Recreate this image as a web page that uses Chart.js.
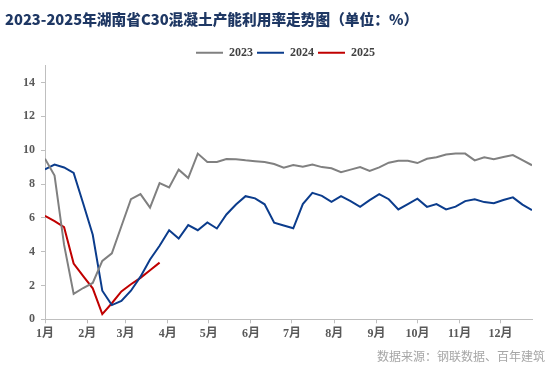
<!DOCTYPE html>
<html>
<head>
<meta charset="utf-8">
<script src="https://cdn.jsdelivr.net/npm/chart.js@4/dist/chart.umd.min.js"></script>
<style>
html,body{margin:0;padding:0;background:#fff;}
#c{display:block;}
</style>
</head>
<body>
<canvas id="c" width="554" height="382"></canvas>
<script>
// ---- data ----
const monthLabels = ['1月','2月','3月','4月','5月','6月','7月','8月','9月','10月','11月','12月'];
const monthStartDays = [0,31,59,90,120,151,181,212,243,273,304,334];
const yTicks = [0,2,4,6,8,10,12,14];
const seriesNames = ['2023','2024','2025'];
const v2023 = [9.5,8.5,4.4,1.5,1.85,2.15,3.45,3.9,5.5,7.1,7.4,6.6,8.05,7.8,8.85,8.35,9.8,9.3,9.3,9.48,9.47,9.4,9.35,9.3,9.18,8.97,9.12,9.02,9.15,9.0,8.93,8.7,8.85,9.0,8.77,8.98,9.26,9.37,9.38,9.24,9.49,9.58,9.75,9.8,9.8,9.4,9.58,9.47,9.6,9.71,9.41,9.11];
const v2024 = [8.86,9.15,8.98,8.66,6.85,5.0,1.69,0.84,1.08,1.69,2.52,3.54,4.35,5.27,4.78,5.57,5.27,5.73,5.37,6.2,6.79,7.28,7.15,6.8,5.71,5.55,5.38,6.81,7.48,7.3,6.95,7.28,6.99,6.65,7.05,7.4,7.1,6.5,6.81,7.13,6.65,6.81,6.5,6.66,6.99,7.1,6.93,6.86,7.05,7.21,6.78,6.46];
const v2025 = [6.12,5.8,5.45,3.3,2.55,1.83,0.31,0.95,1.65,2.07,2.45,2.9,3.35];
const titleText = '2023-2025年湖南省C30混凝土产能利用率走势图（单位：%）';
const sourceText = '数据来源：钢联数据、百年建筑';

const toPts = arr => arr.map((v,i)=>({x:i,y:v}));
const serif = '"Liberation Serif","Times New Roman","Noto Sans CJK SC",serif';

const sourcePlugin = {
  id:'source',
  afterLayout(chart){
    const lg = chart.legend;
    if (lg){ lg.left += 17; lg.right += 17; }
  },
  afterDraw(chart){
    const ctx = chart.ctx;
    ctx.save();
    ctx.font = '12px "Noto Sans CJK SC"';
    ctx.fillStyle = '#a6a6a6';
    ctx.textAlign = 'right';
    ctx.textBaseline = 'middle';
    ctx.fillText(sourceText, 545, 356);
    ctx.restore();
  }
};

new Chart(document.getElementById('c'), {
  type:'line',
  data:{
    datasets:[
      {label:seriesNames[0], data:toPts(v2023), borderColor:'#808080', backgroundColor:'#808080', borderWidth:2, pointRadius:0, tension:0},
      {label:seriesNames[1], data:toPts(v2024), borderColor:'#0B3C8C', backgroundColor:'#0B3C8C', borderWidth:2, pointRadius:0, tension:0},
      {label:seriesNames[2], data:toPts(v2025), borderColor:'#C00000', backgroundColor:'#C00000', borderWidth:2, pointRadius:0, tension:0}
    ]
  },
  options:{
    responsive:false,
    animation:false,
    devicePixelRatio:1,
    layout:{padding:{left:5,right:22,top:0,bottom:32.7}},
    plugins:{
      title:{display:true, text:titleText, align:'start', color:'#1F3864',
        font:{family:'"Noto Sans CJK SC"', size:14.7, weight:'900', lineHeight:1.2},
        padding:{top:11,bottom:14.1}},
      legend:{display:true, position:'top', align:'center', maxHeight:22.9,
        labels:{usePointStyle:true, pointStyle:'line', pointStyleWidth:27, boxHeight:12,
          padding:4, color:'#404040', font:{family:serif, size:12, weight:'bold'}}},
      tooltip:{enabled:false}
    },
    scales:{
      x:{type:'linear', min:0, max:51,
        afterBuildTicks:s=>{ s.ticks = monthStartDays.map(d=>({value:d/7})); },
        afterFit:s=>{ s.height = 30; },
        grid:{display:true, drawOnChartArea:false, drawTicks:true, tickLength:4, color:'#bfbfbf'},
        border:{display:true, color:'#bfbfbf', width:1},
        ticks:{autoSkip:false, maxRotation:0, padding:3, color:'#595959',
          font:{family:serif, size:12, weight:'bold'},
          callback:(v,i)=>monthLabels[i]}
      },
      y:{min:0, max:15,
        afterBuildTicks:s=>{ s.ticks = yTicks.map(v=>({value:v})); },
        afterFit:s=>{ s.width = 40; },
        grid:{display:true, drawOnChartArea:false, drawTicks:true, tickLength:4, color:'#bfbfbf'},
        border:{display:true, color:'#bfbfbf', width:1},
        ticks:{padding:6, color:'#595959', font:{family:serif, size:12, weight:'bold'}}
      }
    }
  },
  plugins:[sourcePlugin]
});
</script>
</body>
</html>
